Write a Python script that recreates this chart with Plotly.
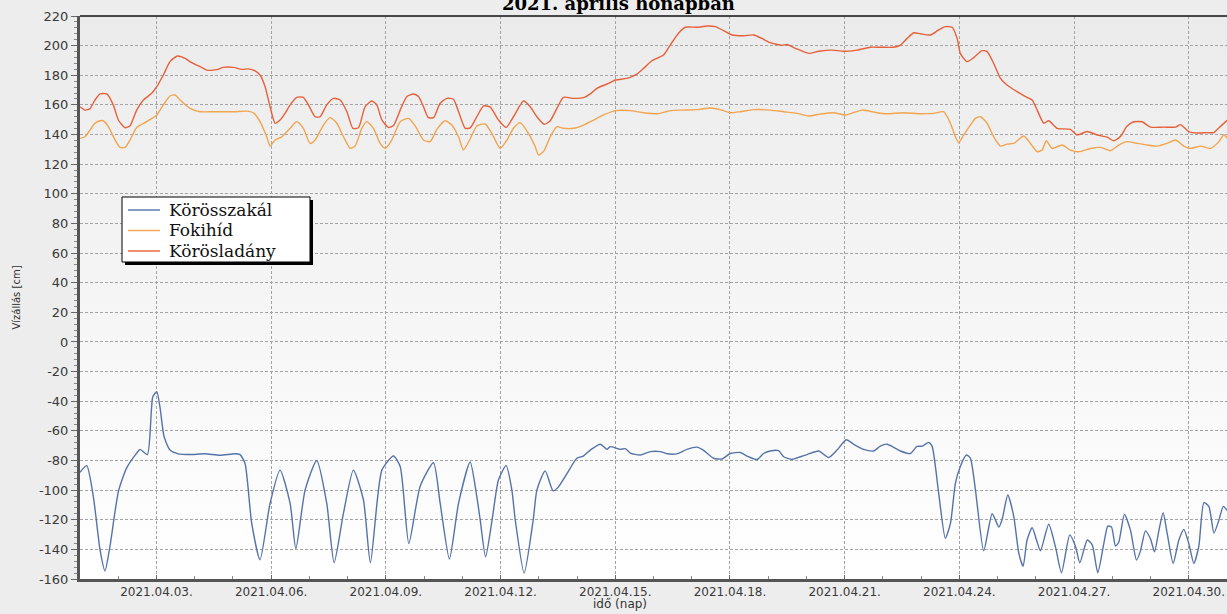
import base64
import pandas as pd
import plotly.graph_objects as go

# mérési idők órában 2021.04.01. 00:00-tól, vízállások cm-ben
kor_ora = [0, 4.2, 8.4, 12.6, 15.7, 18.8, 24.1, 29.3, 35.6, 37.7, 42.3, 45.7, 48.2, 50.2, 52.8, 56.5, 61.7, 69, 78.5, 87.9,
           97.3, 100.5, 103.6, 107.8, 113, 119.3, 125.6, 131.9, 135.5, 141.3, 148.6, 154.9, 159.5, 165.4, 171.6, 177.9,
           182.3, 189.5, 196.8, 201, 206.4, 213.5, 221.9, 226.1, 231.9, 237.6, 244.9, 249.1, 251.2, 254.6, 258.7, 262.7,
           267.5, 271.1, 273.2, 278.8, 284.5, 286.8, 292, 297, 300.2, 305.6, 311.9, 315.9, 320.3, 326.6, 330.8, 332.8,
           339.1, 342.3, 345.4, 351.7, 358, 364.2, 368.6, 374.7, 381, 387.3, 391.2, 397.7, 403, 408.2, 414.5, 418.7, 425,
           429.1, 433.3, 438.5, 441.7, 446.9, 452.2, 456.4, 463.7, 469.9, 475.2, 481, 485.6, 491.9, 498.2, 502.4, 506.6,
           510.5, 515, 521.2, 525.4, 528.8, 532.7, 534.9, 539, 543.2, 546.4, 549.5, 552.6, 556.4, 558.9, 562.1, 567.3,
           572.6, 576.8, 578.8, 582.4, 586.1, 589.3, 592, 594.5, 597.7, 600.8, 602.9, 608.1, 612.4, 616.1, 621.3, 624.9,
           627.6, 632.3, 635.4, 638.9, 642.7, 645.2, 647.5, 650, 652.1, 655.6, 659.4, 663.2, 665.7, 668.8, 672, 674.5,
           677.2, 679.9, 682.5, 686.2, 689.7, 692.9, 696, 699.2, 702.3, 705.5, 708.6, 711.8, 714.7, 717.7, 720.3]
kor_cm = [-88, -83.5, -104.5, -140.5, -154.6, -138, -101, -85, -75, -72.5, -76, -37, -33.5, -44, -64, -73, -75.5, -76,
          -75.5, -76.5, -75.5, -76, -82, -122.5, -147, -109, -86.5, -109, -139.5, -100, -80, -109, -149, -115.5, -86.5,
          -106.5, -149, -86.5, -77, -84, -136, -97.5, -81.5, -109, -146.5, -109, -81, -104.5, -120, -145, -120, -93,
          -83.5, -100, -120, -156, -120, -100, -87, -100.5, -98, -89, -78.5, -77, -73, -69, -72.5, -70.7, -72.5, -72,
          -75, -76.3, -74, -74, -75.5, -75.5, -72.5, -71, -73, -78.5, -79, -75.3, -74.6, -77, -79.3, -75.3, -73.6,
          -73.4, -77.5, -79.3, -77.5, -76, -73.6, -78, -73, -66, -69, -72.5, -73.6, -70.3, -69, -71, -73.6, -75.3,
          -70.5, -70.3, -67.8, -70.5, -102, -132.5, -122.5, -95.5, -84, -76.3, -78.4, -100, -141, -116, -125, -120,
          -103.3, -117.5, -142.5, -151.5, -133.7, -125.4, -135, -141, -123, -138.7, -155.8, -130.2, -138, -149, -133.7,
          -137, -155.8, -136, -124.3, -125, -137.8, -135, -116.4, -127, -147.2, -141, -127.5, -133, -141.6, -127.5,
          -115.3, -129.6, -149.5, -134, -126.5, -136, -149.5, -138, -108.5, -111, -129, -121, -111, -114]

foki_ora = [0, 3.1, 6.3, 9.4, 12.6, 14.6, 17.8, 22, 25.1, 28.3, 31.4, 35.6, 41.9, 48.2, 52.3, 56.5, 59.7, 62.8, 69.1,
            75.4, 83.7, 96.3, 104.7, 108.8, 113, 117.2, 119.3, 122.5, 126.7, 131.9, 136.1, 140.2, 144.4, 147.6, 152.8,
            157, 161.2, 165.4, 169.6, 172.7, 176.9, 180, 184.2, 188.4, 191.5, 195.7, 201, 206.2, 210.4, 215.6, 219.8,
            224, 229.2, 233.4, 237.6, 240.7, 244.9, 249.1, 254.3, 258.5, 263.8, 268, 272.1, 276.3, 281.5, 285.7, 287.8,
            291, 295.2, 299.4, 303.5, 309.8, 316.1, 322.4, 328.6, 336.2, 345.4, 353.8, 362.2, 370.5, 378.9, 387.3,
            395.6, 401.9, 408.2, 414.5, 422.8, 433.3, 441.7, 450.1, 457.4, 464.7, 473.1, 480.4, 490.9, 500.3, 506.6,
            517, 527.5, 535.9, 542.1, 546.4, 549.5, 551.6, 554.7, 558.9, 562.1, 565.2, 569.4, 573.5, 577.8, 581.9,
            586.1, 592.4, 596.6, 600.8, 603.9, 606.6, 610.2, 616.5, 621.7, 626.9, 634.3, 640.6, 646.8, 652, 657.3,
            663.6, 669.9, 676.1, 682.4, 687.7, 692.9, 697.1, 703.4, 709.6, 714.9, 718, 720.3]
foki_cm = [137.4, 138.5, 143, 147.6, 149.3, 149.3, 145.3, 136.3, 131.3, 131.3, 136.3, 144.8, 148.7, 153.2, 160, 166,
           166.7, 163.3, 157.7, 155.4, 155.4, 155.4, 155.8, 154.7, 148.7, 138.5, 132.2, 136.3, 138.5, 144.2, 148.7,
           144.2, 134, 136.3, 146.4, 151.4, 147.6, 138.5, 130.7, 132.2, 144.2, 148.7, 144.2, 134, 130.7, 136.3, 148.7,
           150.9, 145.8, 136.3, 135.2, 143.5, 149.3, 146.4, 138.5, 129.6, 137, 145.8, 147.1, 140.8, 130.7, 136.3,
           144.2, 148, 140.8, 131.9, 126.2, 128.6, 138.5, 145.3, 144.2, 144.2, 146.4, 149.8, 153.2, 156.1, 156.1,
           154.7, 154, 156.1, 156.5, 156.8, 157.9, 156.8, 154.7, 155.4, 156.8, 156.5, 155.4, 154.3, 152.5, 153.8,
           154.7, 153.2, 156.5, 154.7, 154, 154.7, 154, 154.3, 155.4, 147.6, 138.5, 134.5, 139.7, 146.4, 150.9, 152,
           147.6, 138.5, 132.2, 133.5, 134, 139, 134, 128.4, 129.5, 135.8, 130.6, 132.9, 129.5, 128.4, 130.6, 131.3,
           129.1, 132.9, 135.2, 134, 132.9, 132.2, 134, 136.3, 132.2, 130.6, 132.2, 130.6, 135.2, 139.7, 137.4]

lad_ora = [0, 3.1, 6.3, 9.4, 12.6, 16.8, 20.9, 24.1, 28.3, 31.4, 35.6, 39.8, 45, 48.2, 52.3, 56.5, 61.1, 65.9, 70.1,
           75.4, 79.6, 85.8, 90, 96.3, 101.5, 105.7, 109.9, 113, 116.2, 119.3, 122.5, 125.6, 128.7, 131.9, 136.1,
           140.2, 143.4, 147.6, 150.7, 154.9, 159.1, 163.3, 167.5, 171.3, 174.8, 179, 183.2, 186.3, 189.5, 193.6,
           196.8, 201, 205.2, 209.3, 212.5, 215.6, 218.7, 221.9, 226.1, 230.3, 234.4, 237.6, 241.8, 244.9, 249.1,
           253.3, 257.5, 262.7, 267.5, 272.1, 278.4, 282.6, 286.8, 291.4, 295.2, 299.4, 303.5, 309.8, 316.1, 320.3,
           324.5, 330.8, 336.2, 343.3, 349.6, 353.8, 359, 366.3, 370.5, 375.7, 379.9, 387.3, 393.6, 398.8, 404, 409.3,
           416.6, 422.8, 429.1, 433.3, 440.7, 443.8, 449, 457.4, 463.7, 472.1, 479.4, 487.8, 496.1, 502.4, 510.7,
           515, 519.2, 523.4, 527.5, 533.8, 539, 543.2, 547.4, 550.6, 552.6, 556.8, 561, 566.2, 569.4, 573.5, 577.8,
           581.9, 588.2, 593.5, 597.7, 600.8, 605, 608.1, 613.4, 621.7, 625.9, 632.2, 638.5, 644.8, 648.9, 653.1,
           657.3, 661.5, 666.7, 672, 680.3, 687.7, 690.8, 696, 701.3, 707.6, 711.7, 715.9, 720.3]
lad_cm = [158.8, 156.5, 157.5, 163.3, 167.4, 167.4, 160, 149.8, 144.6, 146, 156.5, 163.3, 167.8, 172.3, 180.2, 189.2,
          193, 191.4, 188.5, 185.8, 183.5, 183.8, 185.3, 185.3, 184, 184.3, 183, 180.2, 172.3, 158.8, 147.6, 149.8,
          154.3, 160, 165.1, 165.1, 160, 152, 152, 160, 164.4, 163.3, 155.5, 144.2, 144.6, 158.8, 162.6, 160, 149.8,
          144.8, 146.1, 156.5, 165.6, 167.4, 165.6, 158.8, 151.4, 151.4, 161.1, 164.4, 163.8, 155.5, 144.2, 144.5,
          152, 159.3, 158.5, 149.8, 144.8, 152, 162.6, 158.8, 152, 146.9, 149.3, 157.7, 165.1, 164.4, 164.9, 167.4,
          171.2, 174.1, 176.8, 177.9, 180.8, 184.7, 189.8, 193.7, 200.4, 208.3, 212.4, 212.4, 213.2, 212.8, 210.1,
          207.2, 206.7, 207.2, 204.3, 202, 200.2, 200.8, 198.2, 194.8, 196.2, 197, 196.2, 197, 198.9, 198.9, 198.9,
          200.4, 204.9, 208.7, 208, 207.2, 210.6, 212.8, 212.4, 204.9, 194.8, 189.2, 191.9, 196.6, 196, 188.1, 177.9,
          173.4, 168.9, 165.6, 163.3, 156.6, 147.6, 149.3, 144.2, 143.5, 139.7, 142, 139.7, 138.2, 135.8, 138.6,
          145.7, 148.6, 148.6, 145, 145, 145, 146.7, 142, 141, 141.3, 141.3, 145.5, 149.8]

nevek = ["Körösszakál", "Fokihíd", "Körösladány"]
szinek = ["#5673a8", "#f2a44e", "#e6603a"]
y_tickek = [-160, -140, -120, -100, -80, -60, -40, -20, 0, 20, 40, 60, 80, 100, 120, 140, 160, 180, 200, 220]

kezdet = pd.Timestamp("2021-04-01 00:00")

# rajzterület pixelben (bal, felső, szélesség, magasság)
BAL, FENT, SZ, M = 80, 16, 1147, 563


def idopontok(orak):
    return kezdet + pd.to_timedelta(orak, unit="h")


def px_x(x):
    return (x - BAL) / SZ


def px_y(y):
    return 1 - (y - FENT) / M


def gradiens(felso, also):
    # függőleges színátmenet svg-ként, háttérnek
    svg = (
        '<svg xmlns="http://www.w3.org/2000/svg" width="10" height="100" preserveAspectRatio="none">'
        '<defs><linearGradient id="g" x1="0" y1="0" x2="0" y2="1">'
        f'<stop offset="0" stop-color="{felso}"/><stop offset="1" stop-color="{also}"/>'
        '</linearGradient></defs><rect width="10" height="100" fill="url(#g)"/></svg>'
    )
    return "data:image/svg+xml;base64," + base64.b64encode(svg.encode()).decode()


fig = go.Figure()

for nev, orak, ertekek, szin in zip(nevek, [kor_ora, foki_ora, lad_ora], [kor_cm, foki_cm, lad_cm], szinek):
    fig.add_trace(go.Scatter(
        x=idopontok(orak), y=ertekek, mode="lines", name=nev, showlegend=False,
        line=dict(color=szin, width=1.4, shape="spline", smoothing=0.6),
    ))

racs = dict(showgrid=True, gridcolor="#a4a4a4", griddash="3px,2px", gridwidth=1)

fig.update_xaxes(
    range=[kezdet, kezdet + pd.Timedelta(days=30)],
    tick0="2021-04-03", dtick=3 * 86400000, tickformat="%Y.%m.%d.",
    ticks="inside", ticklen=4, tickcolor="#666",
    minor=dict(dtick=86400000, ticks="inside", ticklen=3, tickcolor="#888", showgrid=False),
    showline=True, linecolor="#555", linewidth=3,
    tickfont=dict(family="DejaVu Sans", size=12, color="#3a3a3a"), zeroline=False,
    **racs,
)
fig.update_yaxes(
    range=[-160, 220], tickvals=y_tickek, ticktext=[str(v) for v in y_tickek],
    ticks="outside", ticklen=6, tickcolor="#666",
    minor=dict(dtick=4, ticks="outside", ticklen=3, tickcolor="#888", showgrid=False),
    showline=True, linecolor="#555", linewidth=3,
    tickfont=dict(family="DejaVu Sans", size=13, color="#3a3a3a"),
    title=dict(text="Vízállás [cm]", font=dict(family="DejaVu Sans", size=10, color="#333"), standoff=17),
    zeroline=False,
    **racs,
)

# felső keretvonal
fig.add_shape(type="line", xref="paper", yref="paper", x0=0, x1=1, y0=1, y1=1,
              line=dict(color="#111", width=1.5))

fig.add_annotation(text="idő (nap)", xref="paper", yref="paper", x=0.471, y=px_y(604),
                   showarrow=False, yanchor="middle",
                   font=dict(family="DejaVu Sans", size=12, color="#333"))

fig.add_layout_image(source=gradiens("#ebebeb", "#ffffff"), xref="paper", yref="paper",
                     x=0, y=1, sizex=1, sizey=1, sizing="stretch", layer="below", xanchor="left", yanchor="top")

# jelmagyarázat: árnyék, keret, vonalminták és feliratok
fig.add_shape(type="rect", xref="paper", yref="paper", layer="above",
              x0=px_x(125), x1=px_x(313), y0=px_y(265), y1=px_y(200),
              fillcolor="#000", line=dict(width=0))
fig.add_shape(type="rect", xref="paper", yref="paper", layer="above",
              x0=px_x(122), x1=px_x(310), y0=px_y(262), y1=px_y(197),
              fillcolor="#fff", line=dict(color="#000", width=1))
for i, (nev, szin) in enumerate(zip(nevek, szinek)):
    sor_y = px_y(210 + i * 20.5)
    fig.add_shape(type="line", xref="paper", yref="paper", layer="above",
                  x0=px_x(128), x1=px_x(160), y0=sor_y, y1=sor_y,
                  line=dict(color=szin, width=1.4))
    fig.add_annotation(text=nev, xref="paper", yref="paper", x=px_x(167), y=sor_y,
                       xanchor="left", yanchor="middle", showarrow=False,
                       font=dict(family="DejaVu Serif", size=17, color="#111"))

fig.update_layout(
    width=1227, height=614,
    margin=dict(l=BAL, r=1227 - BAL - SZ, t=FENT, b=614 - FENT - M),
    paper_bgcolor="#ededed", plot_bgcolor="#f4f4f4",
    title=dict(text="<b>2021. április hónapban</b>", x=0.504, xref="container", y=0.983, yref="container",
               xanchor="center", yanchor="bottom",
               font=dict(family="DejaVu Serif", size=18, color="#000")),
    showlegend=False,
)

fig.write_html("out.html", config={"displayModeBar": False},
               post_script="document.body.style.margin='0px';")
